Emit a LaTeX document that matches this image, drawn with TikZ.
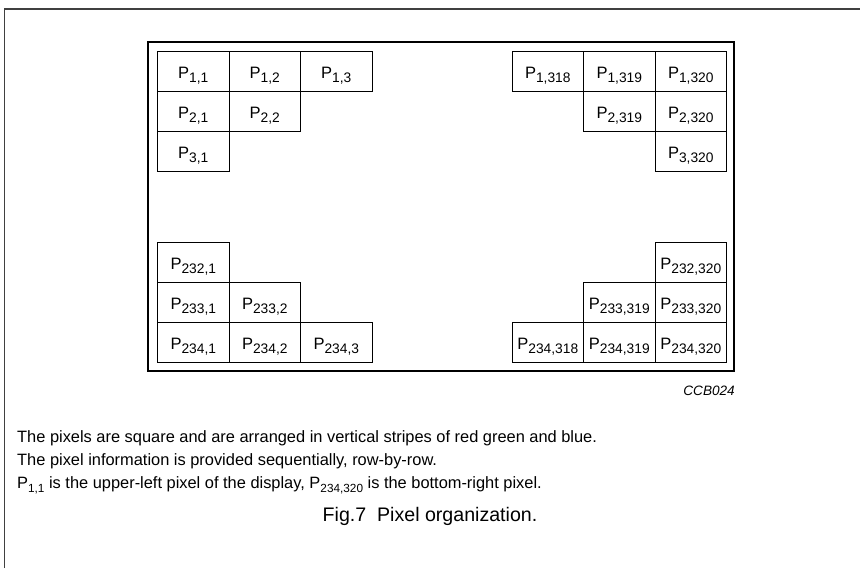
\documentclass[tikz,border=0pt]{standalone}
\usepackage{fontspec}
\setmainfont{Liberation Sans}
% pixel label: P with a lowered index pair
\newcommand\Pix[3][13.8]{P\raisebox{-4.8pt}{\fontsize{#1}{#1}\selectfont #2,#3}}
\begin{document}
\begin{tikzpicture}[x=1pt,y=-1pt,
  cell/.style={draw,line width=1.1pt,anchor=north west,minimum width=71.5pt,
    minimum height=40pt,inner sep=0pt,text height=13pt,text depth=0pt,
    font=\fontsize{16.5}{18}\selectfont},
  body/.style={anchor=base west,inner sep=0pt,font=\fontsize{16.4}{20}\selectfont},
]
\useasboundingbox (0,0) rectangle (860,568);
% page frame
\draw[line width=1.2pt,black!75] (4.5,568) -- (4.5,9) -- (860,9);
% display outline
\draw[line width=2.5pt] (148,42) rectangle (734,371);

% top-left corner
\node[cell] (c1-1) at (157,51) {\Pix{1}{1}};
\node[cell] (c1-2) at (228.5,51) {\Pix{1}{2}};
\node[cell] (c1-3) at (300,51) {\Pix{1}{3}};
\node[cell] (c2-1) at (157,91) {\Pix{2}{1}};
\node[cell] (c2-2) at (228.5,91) {\Pix{2}{2}};
\node[cell] (c3-1) at (157,131) {\Pix{3}{1}};
% top-right corner
\node[cell] (c1-318) at (511.5,51) {\Pix{1}{318}};
\node[cell] (c1-319) at (583,51) {\Pix{1}{319}};
\node[cell] (c1-320) at (654.5,51) {\Pix{1}{320}};
\node[cell] (c2-319) at (583,91) {\Pix{2}{319}};
\node[cell] (c2-320) at (654.5,91) {\Pix{2}{320}};
\node[cell] (c3-320) at (654.5,131) {\Pix{3}{320}};
% bottom-left corner
\node[cell] (c232-1) at (157,242) {\Pix{232}{1}};
\node[cell] (c233-1) at (157,282) {\Pix{233}{1}};
\node[cell] (c233-2) at (228.5,282) {\Pix{233}{2}};
\node[cell] (c234-1) at (157,322) {\Pix{234}{1}};
\node[cell] (c234-2) at (228.5,322) {\Pix{234}{2}};
\node[cell] (c234-3) at (300,322) {\Pix{234}{3}};
% bottom-right corner
\node[cell] (c232-320) at (654.5,242) {\Pix{232}{320}};
\node[cell] (c233-319) at (583,282) {\Pix{233}{319}};
\node[cell] (c233-320) at (654.5,282) {\Pix{233}{320}};
\node[cell] (c234-318) at (511.5,322) {\Pix{234}{318}};
\node[cell] (c234-319) at (583,322) {\Pix{234}{319}};
\node[cell] (c234-320) at (654.5,322) {\Pix{234}{320}};

\node[anchor=base east,inner sep=0pt,font=\itshape\fontsize{13.6}{15}\selectfont] (code) at (735,395) {CCB024};

% description
\node[body] (l1) at (17,442) {The pixels are square and are arranged in vertical stripes of red green and blue.};
\node[body] (l2) at (17,465) {The pixel information is provided sequentially, row-by-row.};
\node[body] (l3) at (17,488) {\Pix[11.8]{1}{1} is the upper-left pixel of the display, \Pix[11.8]{234}{320} is the bottom-right pixel.};
\node[anchor=base,inner sep=0pt,font=\fontsize{19.6}{24}\selectfont] (cap) at (430,521) {Fig.7\ \ Pixel organization.};
\end{tikzpicture}
\end{document}
